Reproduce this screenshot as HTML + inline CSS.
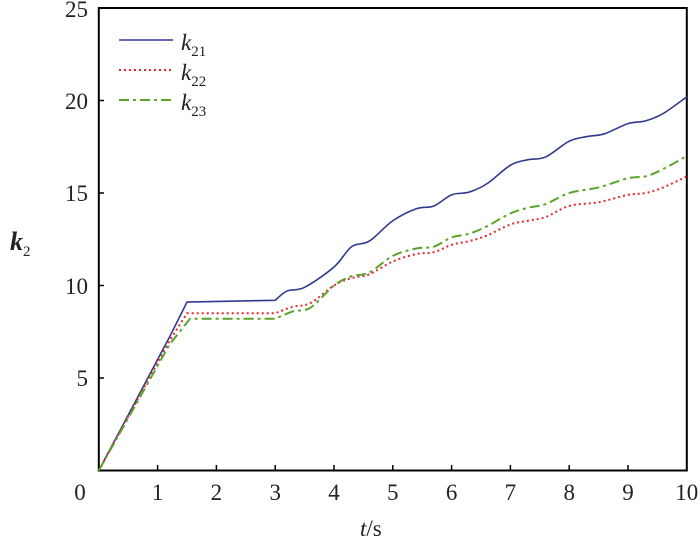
<!DOCTYPE html>
<html><head><meta charset="utf-8"><style>
html,body{margin:0;padding:0;background:#fff;}
svg{display:block;font-family:"Liberation Serif","Times New Roman",serif;}
</style></head><body>
<svg id="s" width="700" height="542" viewBox="0 0 700 542" xmlns="http://www.w3.org/2000/svg">
<rect x="98.8" y="8" width="588" height="462.5" fill="none" stroke="#000" stroke-width="2"/>
<g id="ticks" stroke="#000" stroke-width="1.5"></g>
<g font-size="23" fill="#222" font-family="Liberation Serif, serif">
<text x="80" y="500" text-anchor="middle">0</text>
<text x="157.6" y="500" text-anchor="middle">1</text>
<text x="216.4" y="500" text-anchor="middle">2</text>
<text x="275.2" y="500" text-anchor="middle">3</text>
<text x="334" y="500" text-anchor="middle">4</text>
<text x="392.8" y="500" text-anchor="middle">5</text>
<text x="451.6" y="500" text-anchor="middle">6</text>
<text x="510.4" y="500" text-anchor="middle">7</text>
<text x="569.2" y="500" text-anchor="middle">8</text>
<text x="628" y="500" text-anchor="middle">9</text>
<text x="686.8" y="500" text-anchor="middle">10</text>
<text x="88" y="386" text-anchor="end">5</text>
<text x="88" y="294" text-anchor="end">10</text>
<text x="88" y="201" text-anchor="end">15</text>
<text x="88" y="109" text-anchor="end">20</text>
<text x="88" y="17" text-anchor="end">25</text>
</g>
<text x="360" y="536" font-size="23" fill="#222"><tspan font-style="italic">t</tspan>/s</text>
<text x="10" y="250" font-size="26" font-weight="bold" font-style="italic" fill="#222">k<tspan font-size="15" dy="6" font-style="normal" font-weight="normal">2</tspan></text>
<line x1="119" y1="40" x2="173" y2="40" stroke="#2e3b8f" stroke-width="1.6"/>
<line x1="119" y1="70" x2="173" y2="70" stroke="#e8262b" stroke-width="2" stroke-dasharray="2,3"/>
<line x1="119" y1="100" x2="173" y2="100" stroke="#5aa42a" stroke-width="2" stroke-dasharray="10,4,3,4"/>
<g font-size="23" fill="#222" font-style="italic">
<text x="181" y="50">k<tspan font-size="15" dy="6" font-style="normal">21</tspan></text>
<text x="181" y="80">k<tspan font-size="15" dy="6" font-style="normal">22</tspan></text>
<text x="181" y="110">k<tspan font-size="15" dy="6" font-style="normal">23</tspan></text>
</g>
<path id="p1" fill="none" stroke="#2e3b8f" stroke-width="1.6"/>
<path id="p2" fill="none" stroke="#e8262b" stroke-width="2" stroke-dasharray="2,3"/>
<path id="p3" fill="none" stroke="#5aa42a" stroke-width="2" stroke-dasharray="10,4,3,4"/>
</svg>
<script>
var X=function(t){return 98.8+58.8*t},Y=function(v){return 470.5-18.5*v};
var tk="";
for(var i=1;i<10;i++){tk+='<line x1="'+X(i)+'" y1="470.5" x2="'+X(i)+'" y2="465"/>';}
for(var v=5;v<25;v+=5){tk+='<line x1="98.8" y1="'+Y(v)+'" x2="104" y2="'+Y(v)+'"/>';}
document.getElementById('ticks').innerHTML=tk;
function seg(pts){var d="M"+X(pts[0][0])+","+Y(pts[0][1]);
 for(var i=1;i<pts.length;i++){d+=" L"+X(pts[i][0]).toFixed(1)+","+Y(pts[i][1]).toFixed(1);}return d;}
function smooth(pts){var P=pts.map(function(p){return[X(p[0]),Y(p[1])]});var d="";
 for(var i=0;i<P.length-1;i++){var p0=P[i-1]||P[i],p1=P[i],p2=P[i+1],p3=P[i+2]||P[i+1];
 var c1=[p1[0]+(p2[0]-p0[0])/6,p1[1]+(p2[1]-p0[1])/6],c2=[p2[0]-(p3[0]-p1[0])/6,p2[1]-(p3[1]-p1[1])/6];
 d+=" C"+c1.join(",")+" "+c2.join(",")+" "+p2.join(",");}return d;}
function build(lin,rest){return seg(lin)+smooth(rest);}
var a=[[3,9.2],[3.2,9.7],[3.5,9.9],[4,11],[4.3,12.1],[4.6,12.4],[5,13.5],[5.4,14.15],[5.7,14.3],[6,14.9],[6.3,15.05],[6.6,15.5],[7,16.5],[7.3,16.8],[7.6,16.95],[8,17.8],[8.3,18.05],[8.6,18.2],[9,18.75],[9.3,18.9],[9.6,19.3],[10,20.2]];
var b=[[3,8.5],[3.3,8.85],[3.6,9.05],[4,10],[4.3,10.4],[4.6,10.6],[5,11.3],[5.4,11.7],[5.7,11.8],[6,12.2],[6.3,12.4],[6.6,12.7],[7,13.3],[7.3,13.5],[7.6,13.7],[8,14.3],[8.5,14.5],[9,14.9],[9.3,15.0],[9.6,15.3],[10,15.9]];
var c=[[3,8.2],[3.3,8.6],[3.6,8.8],[4,10],[4.3,10.5],[4.6,10.7],[5,11.6],[5.4,12.0],[5.7,12.1],[6,12.6],[6.3,12.8],[6.6,13.2],[7,13.9],[7.3,14.2],[7.6,14.4],[8,15.0],[8.5,15.3],[9,15.8],[9.3,15.9],[9.6,16.3],[10,17.0]];
document.getElementById('p1').setAttribute('d',build([[0,0],[1.2,7.2],[1.5,9.1],[3,9.2]],a));
document.getElementById('p2').setAttribute('d',build([[0,0],[1.2,7.0],[1.5,8.5],[3,8.5]],b));
document.getElementById('p3').setAttribute('d',build([[0,0],[1.2,6.8],[1.55,8.2],[3,8.2]],c));
</script>
</body></html>
